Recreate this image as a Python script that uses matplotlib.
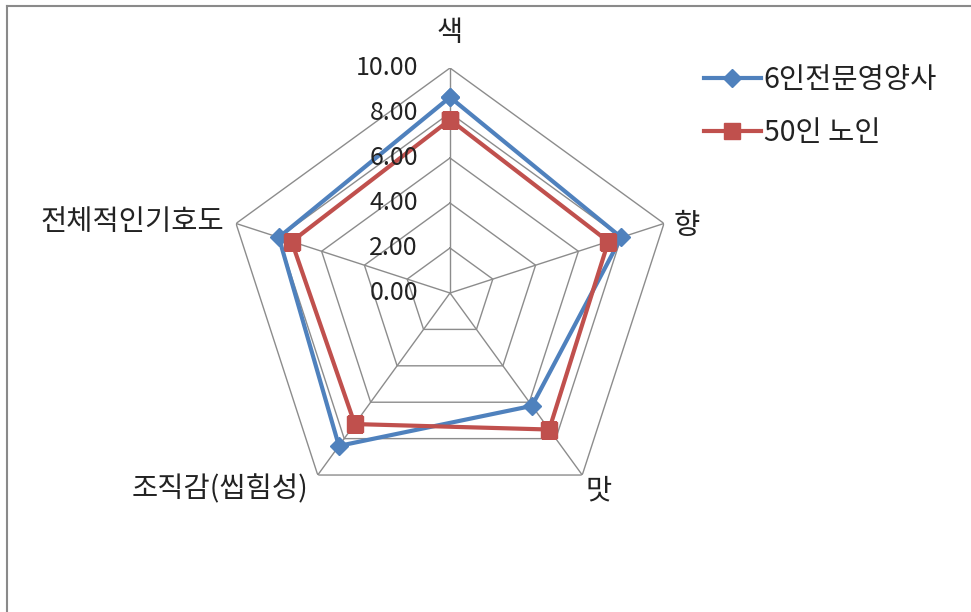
import numpy as np
import matplotlib
matplotlib.use("Agg")
import matplotlib.pyplot as plt
from matplotlib.lines import Line2D

plt.rcParams['font.family'] = ['Noto Sans CJK KR', 'DejaVu Sans']

categories = ['색', '향', '맛', '조직감(씹힘성)', '전체적인기호도']
series_names = ['6인전문영양사', '50인 노인']
nutritionists = [8.7, 8.0, 6.2, 8.4, 8.0]
elderly = [7.7, 7.4, 7.5, 7.2, 7.4]
r_ticks = [0, 2, 4, 6, 8, 10]
r_tick_labels = ['0.00', '2.00', '4.00', '6.00', '8.00', '10.00']

W, H = 971, 612
fig = plt.figure(figsize=(W / 100, H / 100), dpi=100)

# border of chart area (only left and top visible)
fig.add_artist(Line2D([7 / W, 7 / W], [0, 1 - 6 / H], color='#8a8a8a', lw=1.5, transform=fig.transFigure))
fig.add_artist(Line2D([7 / W, 1], [1 - 6 / H, 1 - 6 / H], color='#8a8a8a', lw=1.5, transform=fig.transFigure))

cx, cy, R = 450, 293, 225
ax = fig.add_axes([(cx - R) / W, (H - cy - R) / H, 2 * R / W, 2 * R / H], projection='polar')
ax.set_theta_zero_location('N')
ax.set_theta_direction(-1)
ax.set_ylim(0, 10)
ax.grid(False)
ax.spines['polar'].set_visible(False)
ax.set_xticks([])
ax.set_yticks([])
ax.patch.set_alpha(0)

n = len(categories)
theta = np.arange(n) * 2 * np.pi / n
theta_c = np.append(theta, theta[0])

grid_col = '#8c8c8c'
for t in r_ticks[1:]:
    ax.plot(theta_c, [t] * (n + 1), color=grid_col, lw=1.0, zorder=1)
for th in theta:
    ax.plot([th, th], [0, r_ticks[-1]], color=grid_col, lw=1.0, zorder=1)

blue = '#4F81BD'
red = '#C0504D'
ax.plot(theta_c, nutritionists + nutritionists[:1], color=blue, lw=3.0, marker='D', ms=9,
        markerfacecolor=blue, markeredgecolor=blue, zorder=3, label=series_names[0])
ax.plot(theta_c, elderly + elderly[:1], color=red, lw=3.0, marker='s', ms=11,
        markerfacecolor=red, markeredgecolor=red, zorder=4, label=series_names[1])

fs_num = 18
fs = 20.5
for t, lab in zip(r_ticks, r_tick_labels):
    ax.annotate(lab, xy=(0, t), xytext=(-32, 0), textcoords='offset pixels',
                ha='right', va='center', fontsize=fs_num, color='#222222', zorder=5)

offsets = [((0, 35), 'center'), ((10, -3), 'left'), ((3, -15), 'left'),
           ((-9, -14), 'right'), ((-12, 1), 'right')]
for th, lab, (off, ha) in zip(theta, categories, offsets):
    ax.annotate(lab, xy=(th, 10), xytext=off, textcoords='offset pixels',
                ha=ha, va='center', fontsize=fs, color='#222222', annotation_clip=False)

leg = fig.legend(loc='upper left', bbox_to_anchor=(704 / W, 1 - 65 / H), frameon=False,
                 fontsize=fs, handlelength=2.0, handletextpad=0.1, labelspacing=0.8,
                 borderpad=0, borderaxespad=0)
for t in leg.get_texts():
    t.set_color('#222222')

fig.savefig('out.png', dpi=100)
